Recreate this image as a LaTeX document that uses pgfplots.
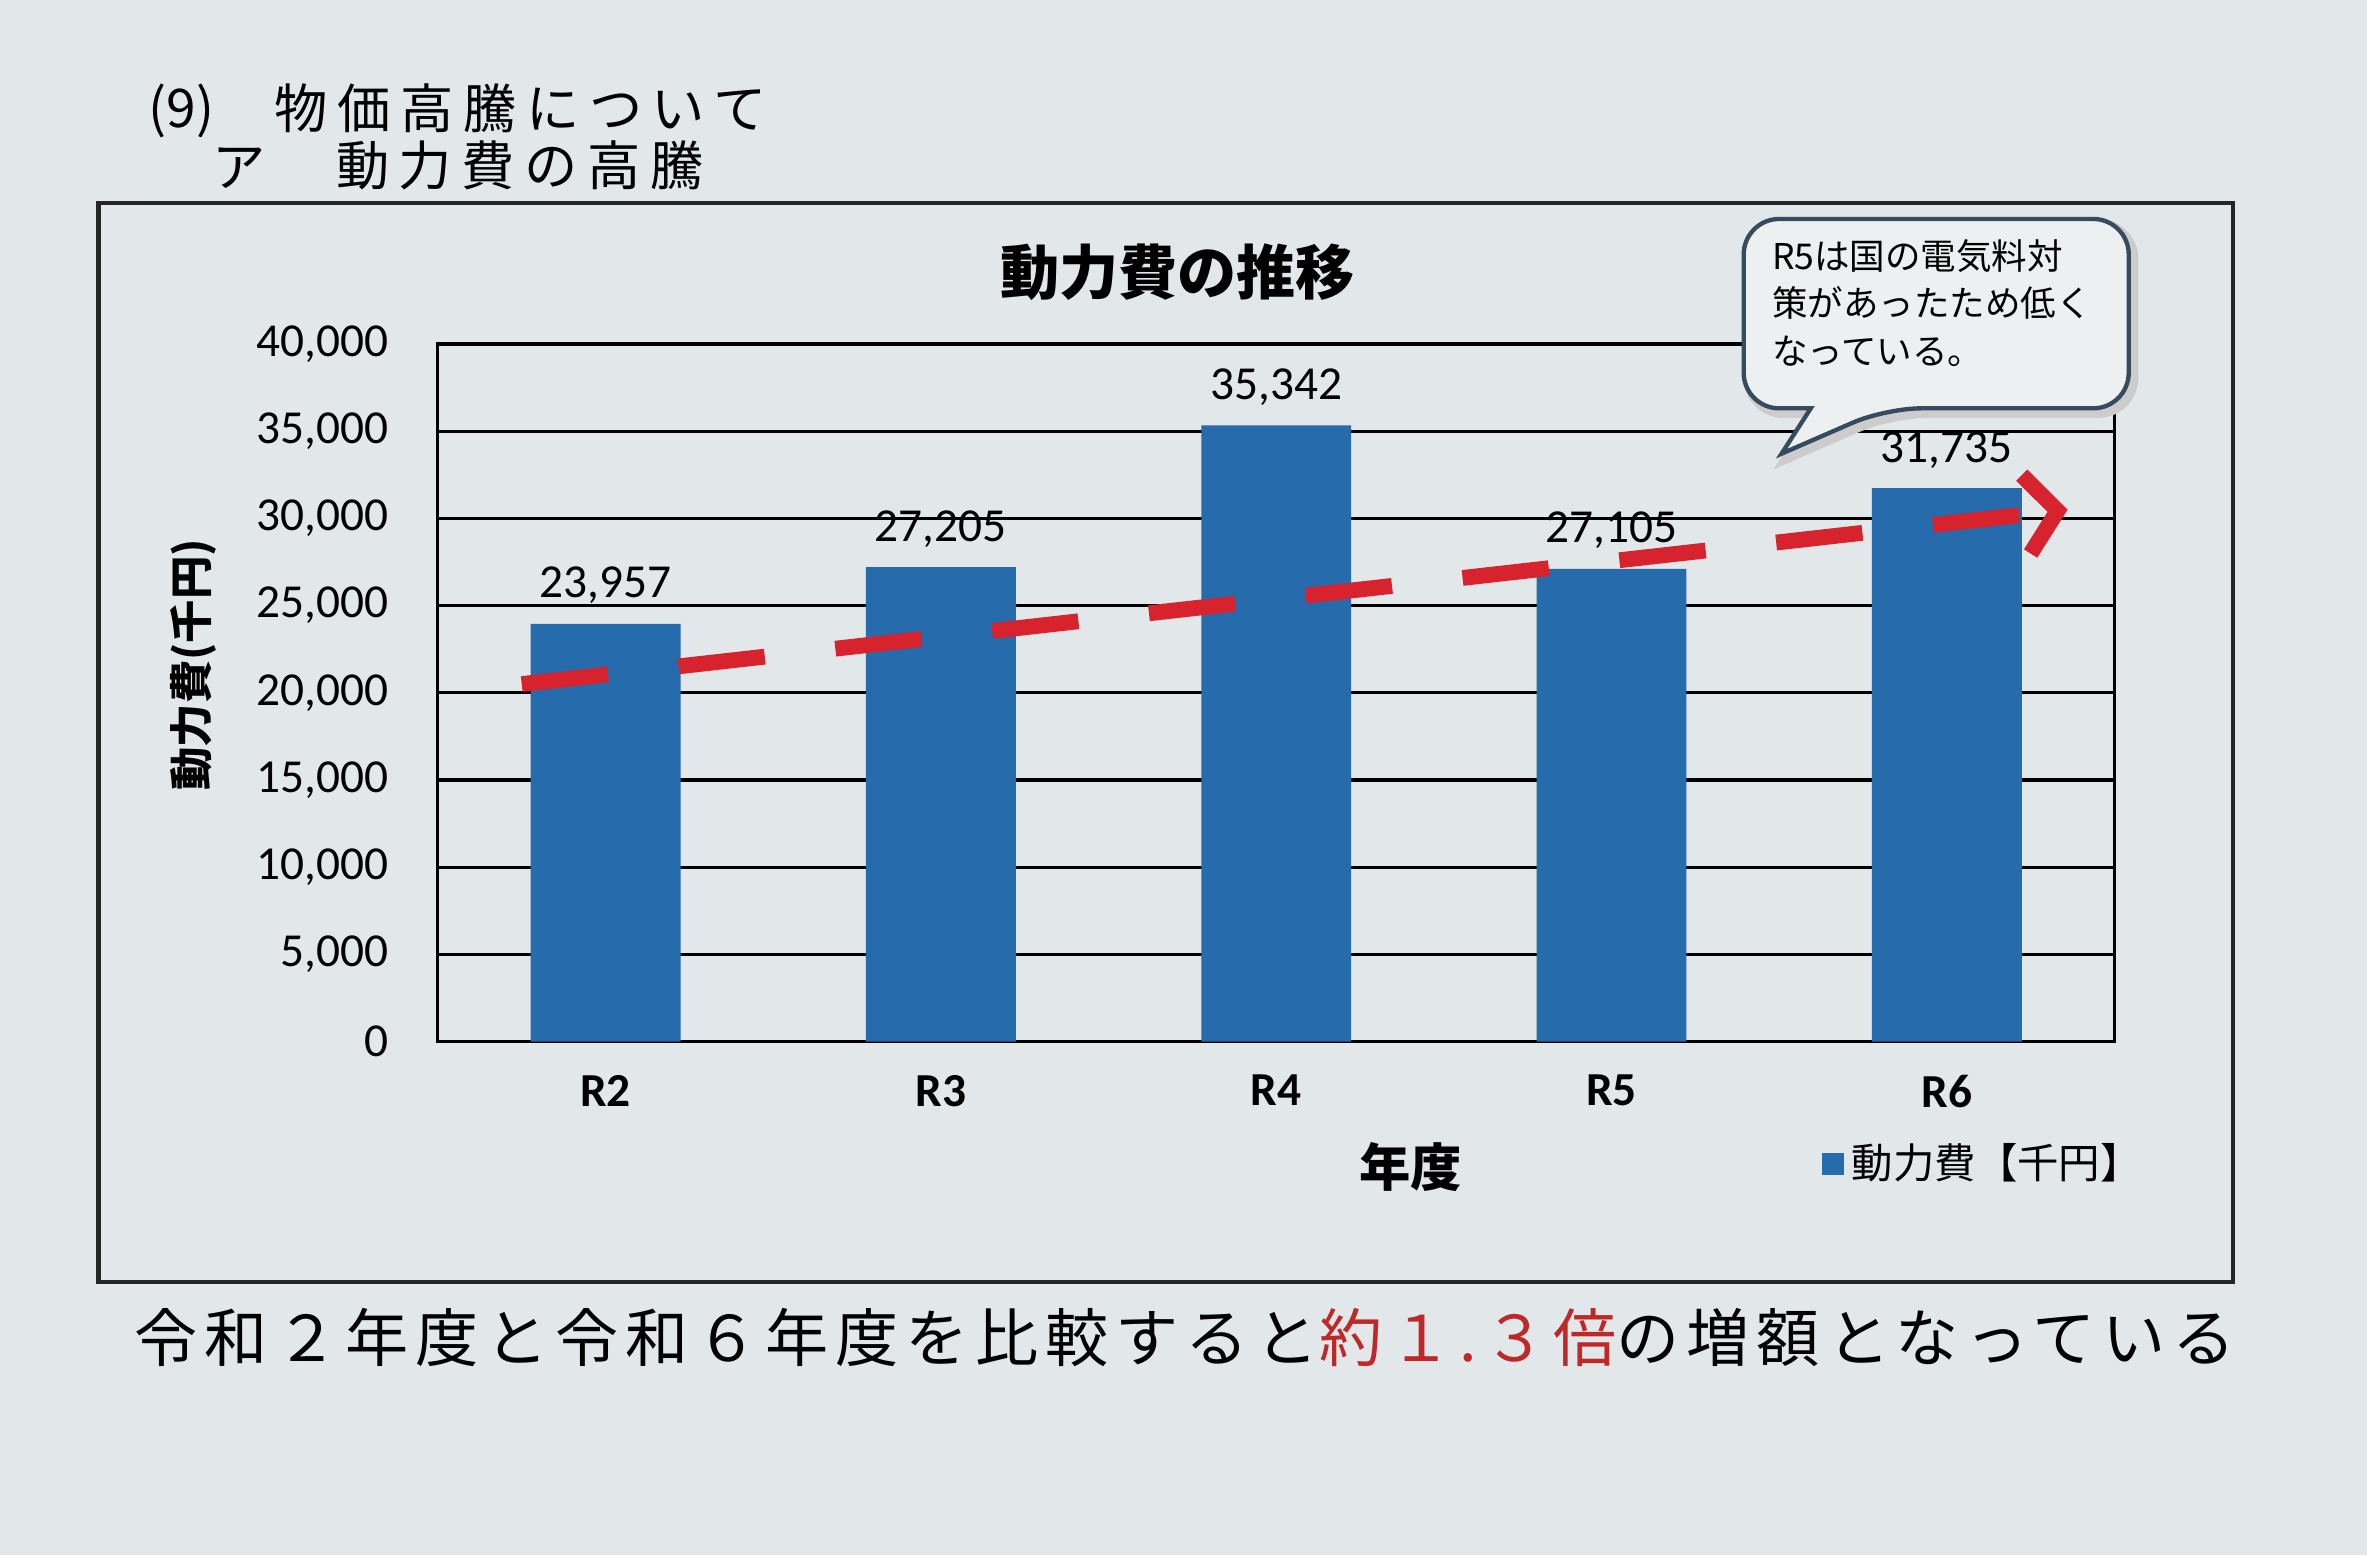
\documentclass[border=0pt]{standalone}
\usepackage{fontspec}
\setmainfont{Carlito}
\newfontfamily\cjk{Noto Sans CJK JP}
\newfontfamily\cjkhead[LetterSpace=18]{Noto Sans CJK JP}
\newfontfamily\cjkbody[LetterSpace=11]{Noto Sans CJK JP}
\usepackage{pgfplots}
\pgfplotsset{compat=1.18}
\usetikzlibrary{arrows.meta}
\definecolor{paper}{RGB}{226,231,233}
\definecolor{barblue}{RGB}{38,108,172}
\definecolor{trendred}{RGB}{215,35,45}
\definecolor{pagered}{RGB}{190,40,40}
\definecolor{calloutline}{RGB}{55,75,95}
\definecolor{calloutfill}{RGB}{237,240,241}
\begin{document}
\begin{tikzpicture}[x=1pt,y=1pt]
\path[use as bounding box] (0,0) rectangle (600,-394.2);
\fill[paper] (0,0) rectangle (600,-394.2);
% page header
\node[anchor=west, inner sep=0, font=\cjk\fontsize{13.5}{14}\selectfont] at (37.5,-28) {(9)};
\node[anchor=west, inner sep=0, font=\cjkhead\fontsize{13.5}{14}\selectfont] at (69.5,-27.5) {物価高騰について};
\node[anchor=west, inner sep=0, font=\cjk\fontsize{13.5}{14}\selectfont] at (53.6,-42.5) {ア};
\node[anchor=west, inner sep=0, font=\cjkhead\fontsize{13.5}{14}\selectfont] at (85,-42) {動力費の高騰};
% frame
\draw[black!85, line width=1.1pt] (25,-51.5) rectangle (566,-325);
% chart title
\node[font=\cjk\bfseries\fontsize{15}{15}\selectfont] at (298.5,-69) {動力費の推移};
\begin{axis}[
  at={(111pt,-264pt)}, anchor=south west,
  scale only axis, width=425pt, height=176.8pt,
  xmin=-0.5, xmax=4.5, ymin=0, ymax=40000,
  clip=false,
  /pgf/number format/assume math mode=true,
  /pgf/number format/.cd, 1000 sep={,}, fixed, /pgfplots/.cd,
  scaled y ticks=false,
  ytick={0,5000,...,40000},
  xtick={0,1,2,3,4}, xticklabels={R2,R3,R4,R5,R6},
  tick pos=left,
  xtick style={draw=none}, ytick style={draw=none},
  extra x ticks={-0.5,0.5,1.5,2.5,3.5,4.5},
  extra x tick labels={},
  extra x tick style={grid=none, tick style={draw=black, line width=0.8pt}, major tick length=5pt, tick align=outside},
  ymajorgrids,
  grid style={black, line width=0.8pt},
  axis line style={black, line width=0.8pt},
  yticklabel style={font=\fontsize{12}{12}\selectfont, xshift=-9pt},
  xticklabel style={font=\bfseries\fontsize{12}{12}\selectfont, yshift=-5pt},
  xlabel={年度},
  xlabel style={font=\cjk\bfseries\fontsize{13}{13}\selectfont, at={(axis description cs:0.58,-0.18)}, anchor=center},
  ylabel={動力費(千円)},
  ylabel style={font=\cjk\bfseries\fontsize{11}{11}\selectfont, at={(axis description cs:-0.146,0.54)}, anchor=center},
  legend style={at={(axis description cs:0.825,-0.175)}, anchor=west, draw=none, fill=none,
    font=\cjk\fontsize{10.5}{12}\selectfont, inner sep=0pt},
  legend image code/.code={\fill[barblue] (0pt,-2.8pt) rectangle (5.6pt,2.8pt);},
]
\addplot[ybar, bar width=38pt, fill=barblue, draw=none,
  nodes near coords,
  nodes near coords style={font=\fontsize{12}{12}\selectfont, black, yshift=1.5pt}]
  coordinates {(0,23957) (1,27205) (2,35342) (3,27105) (4,31735)};
\addlegendentry{動力費【千円】}
\addplot[trendred, line width=4pt, dash pattern=on 22pt off 18pt,
  -{Straight Barb[length=8pt, width=20pt]}, forget plot]
  coordinates {(-0.25,20500) (4.36,30500)};
\end{axis}
% callout
\begin{scope}
\draw[black!20, line width=2.5pt, rounded corners=9pt, shift={(1.2,-1.2)}]
  (442,-55.5) -- (539.6,-55.5) -- (539.6,-103.5) -- (478,-103.5) [sharp corners] -- (451.6,-115) -- (459,-103.5) [rounded corners=9pt] -- (442,-103.5) -- cycle;
\draw[calloutline, line width=1.1pt, fill=calloutfill, rounded corners=9pt]
  (442,-55.5) -- (539.6,-55.5) -- (539.6,-103.5) -- (478,-103.5) [sharp corners] -- (451.6,-115) -- (459,-103.5) [rounded corners=9pt] -- (442,-103.5) -- cycle;
\end{scope}
\node[anchor=north west, inner sep=0, align=left, font=\cjk\fontsize{9}{12}\selectfont] at (449,-60.5) {R5は国の電気料対\\策があったため低く\\なっている。};
% page sentence
\node[anchor=west, inner sep=0, font=\cjkbody\fontsize{16}{16}\selectfont] at (34,-339) {令和２年度と令和６年度を比較すると{\color{pagered}約１.３倍}の増額となっている};
\end{tikzpicture}
\end{document}
